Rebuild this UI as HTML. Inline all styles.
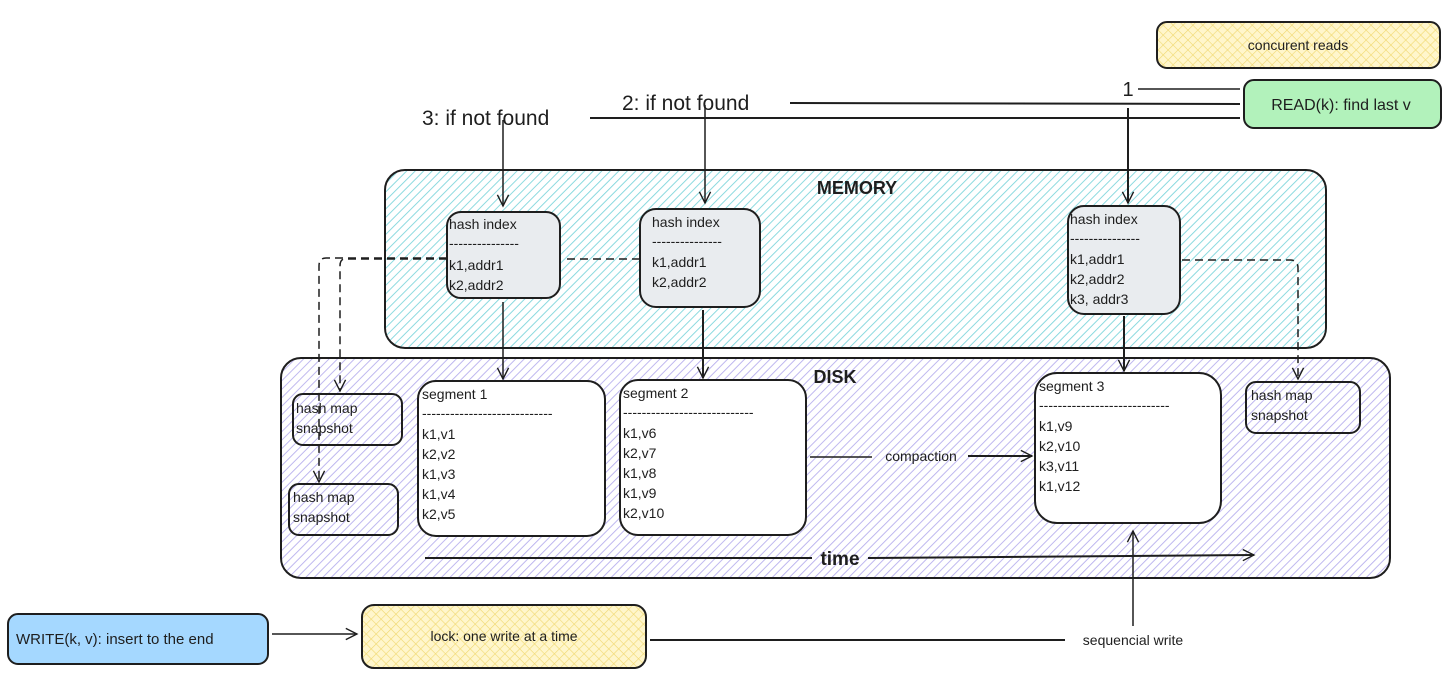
<!DOCTYPE html>
<html><head><meta charset="utf-8"><style>
html,body{margin:0;padding:0;background:#fff;}
svg{display:block;}
text{font-family:"Liberation Sans",sans-serif;fill:#1e1e1e;}
</style></head><body>
<svg width="1456" height="682" viewBox="0 0 1456 682" xmlns="http://www.w3.org/2000/svg">
<defs>
<pattern id="cy" width="6" height="6" patternUnits="userSpaceOnUse" patternTransform="rotate(45)"><rect width="6" height="6" fill="#fff"/><line x1="0" y1="0" x2="0" y2="6" stroke="#7fd6dc" stroke-width="1.8"/></pattern>
<pattern id="pu" width="6" height="6" patternUnits="userSpaceOnUse" patternTransform="rotate(45)"><rect width="6" height="6" fill="#fff"/><line x1="0" y1="0" x2="0" y2="6" stroke="#b8b0ee" stroke-width="1.8"/></pattern>
<pattern id="ye" width="7" height="7" patternUnits="userSpaceOnUse" patternTransform="rotate(45)"><rect width="7" height="7" fill="#fff6cc"/><line x1="0" y1="0" x2="0" y2="7" stroke="#f0d870" stroke-width="1.2"/><line x1="0" y1="0" x2="7" y2="0" stroke="#f0d870" stroke-width="1.2"/></pattern>
<marker id="ah" viewBox="0 0 20 20" refX="18" refY="10" markerWidth="14" markerHeight="14" markerUnits="userSpaceOnUse" orient="auto"><path d="M2 2 L18 10 L2 18" fill="none" stroke="#1e1e1e" stroke-width="2"/></marker>
</defs>
<g stroke="#1e1e1e" stroke-width="2" fill="none">
<!-- top boxes -->
<rect x="1157" y="22" width="283" height="46" rx="10" fill="url(#ye)"/>
<rect x="1244" y="80" width="197" height="48" rx="10" fill="#b2f2bb"/>
<!-- memory -->
<rect x="385" y="170" width="941" height="178" rx="20" fill="url(#cy)"/>
<!-- disk -->
<rect x="281" y="358" width="1109" height="220" rx="20" fill="url(#pu)"/>
<!-- read lines -->
<line x1="1138" y1="89" x2="1240" y2="89" stroke-width="1.5"/>
<line x1="790" y1="103" x2="1240" y2="104"/>
<line x1="590" y1="118" x2="1240" y2="118"/>
<line x1="1128" y1="108" x2="1128" y2="203" marker-end="url(#ah)"/>
<line x1="503" y1="120" x2="503" y2="206" stroke-width="1.5" marker-end="url(#ah)"/>
<line x1="705" y1="105" x2="705" y2="203" stroke-width="1.5" marker-end="url(#ah)"/>
<!-- hash indexes -->
<rect x="447" y="212" width="113" height="86" rx="14" fill="#e9ecef"/>
<rect x="640" y="209" width="120" height="98" rx="16" fill="#e9ecef"/>
<rect x="1068" y="206" width="112" height="108" rx="16" fill="#e9ecef"/>
<!-- segments -->
<rect x="418" y="381" width="187" height="155" rx="18" fill="#fff"/>
<rect x="620" y="380" width="186" height="155" rx="18" fill="#fff"/>
<rect x="1035" y="373" width="186" height="150" rx="22" fill="#fff"/>
<!-- snapshots -->
<rect x="293" y="394" width="109" height="51" rx="10"/>
<rect x="289" y="484" width="109" height="51" rx="10"/>
<rect x="1246" y="382" width="114" height="51" rx="10"/>
<!-- down arrows -->
<line x1="503" y1="302" x2="503" y2="379" stroke-width="1.5" marker-end="url(#ah)"/>
<line x1="703" y1="310" x2="703" y2="378" marker-end="url(#ah)"/>
<line x1="1124" y1="316" x2="1124" y2="371" marker-end="url(#ah)"/>
<!-- dashed -->
<g stroke-dasharray="8 5" stroke-width="1.5">
<path d="M447 258 H326 Q319 258 319 266 V482" marker-end="url(#ah)"/>
<path d="M447 259 H345 Q340 259 340 266 V391" marker-end="url(#ah)"/>
<line x1="640" y1="259" x2="562" y2="259"/>
<path d="M1182 260 H1290 Q1298 260 1298 268 V379" marker-end="url(#ah)"/>
</g>
<!-- compaction -->
<line x1="810" y1="457" x2="872" y2="457" stroke-width="1.5"/>
<line x1="968" y1="456" x2="1032" y2="456" marker-end="url(#ah)"/>
<!-- time -->
<line x1="425" y1="558" x2="812" y2="558"/>
<line x1="868" y1="558" x2="1254" y2="555" marker-end="url(#ah)"/>
<!-- write -->
<rect x="8" y="614" width="260" height="50" rx="10" fill="#a5d8ff"/>
<line x1="272" y1="634" x2="357" y2="634" stroke-width="1.5" marker-end="url(#ah)"/>
<rect x="362" y="605" width="284" height="63" rx="12" fill="url(#ye)"/>
<line x1="650" y1="640" x2="1065" y2="640"/>
<line x1="1133" y1="626" x2="1133" y2="531" stroke-width="1.5" marker-end="url(#ah)"/>
</g>
<!-- texts -->
<text x="1298" y="50" font-size="14" text-anchor="middle">concurent reads</text>
<text x="1341" y="110" font-size="16" text-anchor="middle">READ(k): find last v</text>
<text x="1128" y="96" font-size="20" text-anchor="middle">1</text>
<text x="422" y="125" font-size="21">3: if not found</text>
<text x="622" y="110" font-size="21">2: if not found</text>
<text x="857" y="194" font-size="18" font-weight="bold" text-anchor="middle">MEMORY</text>
<text x="835" y="383" font-size="18" font-weight="bold" text-anchor="middle">DISK</text>
<g font-size="14">
<text x="449" y="229">hash index</text><text x="449" y="248">---------------</text><text x="449" y="270">k1,addr1</text><text x="449" y="290">k2,addr2</text>
<text x="652" y="227">hash index</text><text x="652" y="246">---------------</text><text x="652" y="267">k1,addr1</text><text x="652" y="287">k2,addr2</text>
<text x="1070" y="224">hash index</text><text x="1070" y="243">---------------</text><text x="1070" y="264">k1,addr1</text><text x="1070" y="284">k2,addr2</text><text x="1070" y="304">k3, addr3</text>
<text x="422" y="399">segment 1</text><text x="422" y="418">----------------------------</text>
<text x="422" y="439">k1,v1</text><text x="422" y="459">k2,v2</text><text x="422" y="479">k1,v3</text><text x="422" y="499">k1,v4</text><text x="422" y="519">k2,v5</text>
<text x="623" y="398">segment 2</text><text x="623" y="417">----------------------------</text>
<text x="623" y="438">k1,v6</text><text x="623" y="458">k2,v7</text><text x="623" y="478">k1,v8</text><text x="623" y="498">k1,v9</text><text x="623" y="518">k2,v10</text>
<text x="1039" y="391">segment 3</text><text x="1039" y="410">----------------------------</text>
<text x="1039" y="431">k1,v9</text><text x="1039" y="451">k2,v10</text><text x="1039" y="471">k3,v11</text><text x="1039" y="491">k1,v12</text>
<text x="296" y="413">hash map</text><text x="296" y="433">snapshot</text>
<text x="293" y="502">hash map</text><text x="293" y="522">snapshot</text>
<text x="1251" y="400">hash map</text><text x="1251" y="420">snapshot</text>
<text x="921" y="461" text-anchor="middle">compaction</text>
<text x="1133" y="645" text-anchor="middle">sequencial write</text>
<text x="16" y="644" font-size="15">WRITE(k, v): insert to the end</text>
<text x="504" y="641" text-anchor="middle">lock: one write at a time</text>
</g>
<text x="840" y="565" font-size="19" font-weight="bold" text-anchor="middle">time</text>
</svg>
</body></html>
